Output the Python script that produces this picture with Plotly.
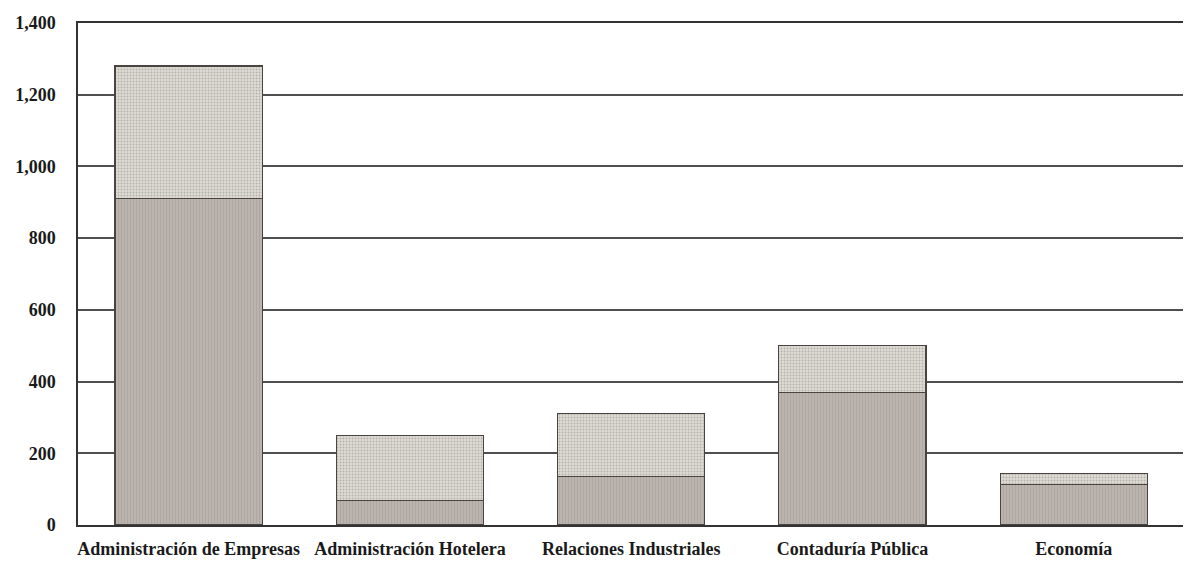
import plotly.graph_objects as go

categories = ["Administración de Empresas", "Administración Hotelera",
              "Relaciones Industriales", "Contaduría Pública", "Economía"]
lower_values = [910, 68, 135, 369, 112]
upper_values = [370, 182, 175, 131, 32]
tick_values = [0, 200, 400, 600, 800, 1000, 1200, 1400]

serif = "Liberation Serif"

fig = go.Figure()

fig.add_trace(go.Bar(
    x=categories, y=lower_values,
    marker=dict(color="#b7afa8",
                line=dict(color="#4a4440", width=1.2),
                pattern=dict(shape="|", fgcolor="#9f9790", bgcolor="#bbb4ae",
                             size=3, solidity=0.3)),
    showlegend=False,
))
fig.add_trace(go.Bar(
    x=categories, y=upper_values,
    marker=dict(color="#d4d1cb",
                line=dict(color="#4a4440", width=1.2),
                pattern=dict(shape=".", fgcolor="#8a8782", bgcolor="#dedbd5",
                             size=3, solidity=0.3)),
    showlegend=False,
))

# page body adds 8px, so the figure is 8px smaller and margins shifted
fig.update_layout(
    barmode="stack",
    bargap=0.335,
    width=1183, height=560,
    margin=dict(l=70, r=0, t=15, b=43),
    paper_bgcolor="white",
    plot_bgcolor="white",
    font=dict(family=serif, color="#1a1a1a"),
    xaxis=dict(
        automargin=False,
        showline=True, linecolor="#333333", linewidth=1.8, mirror=True,
        showgrid=False, ticks="",
        tickangle=0,
        ticklabelstandoff=6,
        tickfont=dict(family=serif, size=18, weight="bold"),
        range=[-0.5, 4.53],
    ),
    yaxis=dict(
        automargin=False,
        range=[0, 1400],
        tickvals=tick_values,
        tickformat=",",
        showline=True, linecolor="#333333", linewidth=1.5,
        showgrid=True, gridcolor="#505050", gridwidth=1.6,
        zeroline=False,
        ticks="",
        ticklabelstandoff=17,
        tickfont=dict(family=serif, size=18, weight="bold"),
    ),
)

fig.write_html("out.html")
